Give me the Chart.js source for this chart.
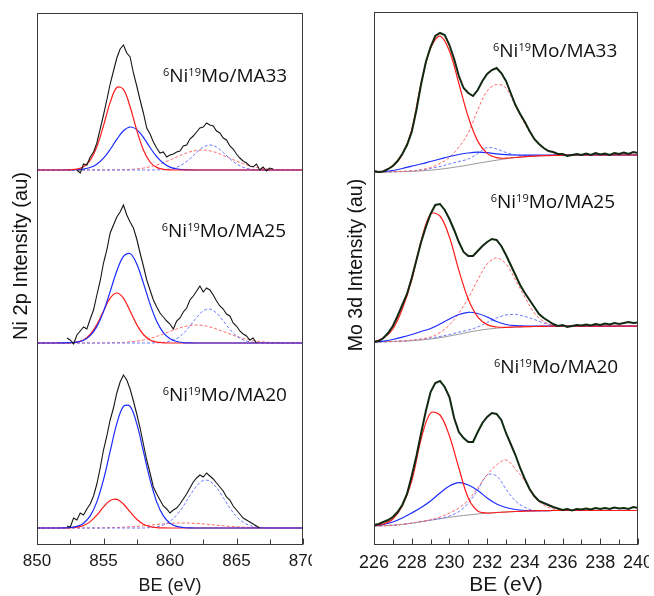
<!DOCTYPE html>
<html>
<head>
<meta charset="utf-8">
<script src="https://cdn.jsdelivr.net/npm/chart.js@4.4.1/dist/chart.umd.min.js"></script>
<style>
  body { margin: 0; background: #fff; }
  #wrap { position: relative; width: 654px; height: 596px; overflow: hidden; background: #fff; }
  canvas { position: absolute; top: 0; }
  #niChart { left: 0; }
  #moChart { left: 330px; }
  .cut { position: absolute; background: #fff; }
</style>
</head>
<body>
<div id="wrap">
  <canvas id="niChart" width="320" height="596"></canvas>
  <canvas id="moChart" width="324" height="596"></canvas>
  <div class="cut" style="left:312px;top:548px;width:18px;height:24px"></div>
  <div class="cut" style="left:649px;top:548px;width:5px;height:24px"></div>
</div>
<script>
// samples, top to bottom
const samples = ['MA33', 'MA25', 'MA20'];

// ---- Ni 2p ----
// fitted components, 0.5 eV grid from 850 to 870 eV (41 points)
const niFitStart = 850, niFitStep = 0.5;
const niRed33 = [0,0,0,0,0, 0.2,0.9,3.3,9.8,23.3, 44.3,67.6,82.5,80.7,63.2, 39.7,20,8,2.6,0.7, 0.1,0,0,0,0, 0,0,0,0,0, 0,0,0,0,0, 0,0,0,0,0, 0];
const niBlue33 = [0,0,0,0,0, 0.1,0.3,0.9,2.5,5.8, 11.8,20.5,30.6,39.2,43, 40.4,32.6,22.5,13.3,6.8, 2.9,1.1,0.35,0.1,0, 0,0,0,0,0, 0,0,0,0,0, 0,0,0,0,0, 0];
const niRedSat33 = [0,0,0,0,0, 0,0,0,0,0, 0,0.1,0.14,0.3,0.6, 1.1,1.9,3.2,5,7.3, 10,13,15.8,18.1,19.6, 20,19.2,17.3,14.7,11.8, 8.9,6.3,4.2,2.6,1.6, 0.9,0.5,0.3,0.1,0, 0];
const niBlueSat33 = [0,0,0,0,0, 0,0,0,0,0, 0,0,0,0,0, 0,0,0,0.1,0.3, 1,2.7,6.1,11.3,17.5, 22.9,25,22.9,17.5,11.3, 6.1,2.7,1,0.3,0.1, 0,0,0,0,0, 0];

const niRed25 = [0,0,0,0,0, 0.2,0.9,3.1,8.5,18.4, 32.1,44.8,50,44.8,32.1, 18.4,8.5,3.1,0.9,0.2, 0,0,0,0,0, 0,0,0,0,0, 0,0,0,0,0, 0,0,0,0,0, 0];
const niBlue25 = [0,0,0,0,0.1, 0.3,0.9,2.8,7.4,16.4, 31.4,51.4,72,86.7,89.4, 79,59.9,38.9,21.7,10.3, 4.2,1.5,0.45,0.1,0, 0,0,0,0,0, 0,0,0,0,0, 0,0,0,0,0, 0];
const niRedSat25 = [0,0,0,0,0, 0,0,0,0,0, 0,0.17,0.3,0.6,1.1, 1.9,3,4.6,6.6,9, 11.5,14,16.1,17.5,18, 17.5,16.1,14,11.5,9, 6.6,4.6,3,1.9,1.1, 0.6,0.3,0.15,0.1,0, 0];
const niBlueSat25 = [0,0,0,0,0, 0,0,0,0,0, 0,0,0,0,0, 0,0,0,0.16,0.6, 1.7,4.4,9.5,17,25.5, 32.1,33.9,29.9,22.2,13.7, 7.1,3.1,1.1,0.35,0.1, 0,0,0,0,0, 0];

const niRed20 = [0,0,0,0,0.04, 0.2,0.8,2.5,6.4,12.9, 21.1,27.5,28.7,24,16.1, 8.7,3.7,1.3,0.4,0.1, 0,0,0,0,0, 0,0,0,0,0, 0,0,0,0,0, 0,0,0,0,0, 0];
const niBlue20 = [0,0,0,0,0.1, 0.5,1.6,4.8,12.1,26.1, 48.3,76.6,104.3,121.6,121.6, 104.3,76.6,48.3,26.1,12.1, 4.8,1.6,0.5,0.1,0, 0,0,0,0,0, 0,0,0,0,0, 0,0,0,0,0, 0];
const niRedSat20 = [0,0,0,0,0, 0,0,0,0,0, 0.2,0.3,0.5,0.8,1.2, 1.6,2.2,2.8,3.5,4.1, 4.6,4.9,5,4.9,4.6, 4.1,3.5,2.8,2.2,1.6, 1.2,0.8,0.5,0.3,0.2, 0.1,0,0,0,0, 0];
const niBlueSat20 = [0,0,0,0,0, 0,0,0,0,0, 0,0,0,0,0, 0,0,0.4,1.2,3, 6.7,13,21.9,32.5,42, 47.5,46.8,40.4,30.4,20, 11.5,5.8,2.5,1,0.3, 0.1,0,0,0,0, 0];

// measured spectra, 0.25 eV steps
const niRawStep = 0.25;
const niRawStarts = [853.0, 852.25, 852.25];
const niRaw33 = [0,-3,6,5,13, 18,27,41,55,70, 86,99,112,121,125, 117,113,97,84,70, 57,42,36,28,22, 17,18,13,15,16, 18,19,24,25,31, 34,38,42,43,47, 45,44,39,37,32, 30,24,21,16,12, 9,7,4,3,6, 0,3,-1,2,1];
const niRaw25 = [5,3,-1,8,12, 16,14,24,33,48, 62,80,93,110,118, 126,131,138,128,121, 115,104,90,77,63, 53,43,36,30,26, 22,19,14,22,25, 31,35,43,47,52, 57,51,55,53,48, 42,37,34,29,27, 20,17,12,9,7, 3,5,0];
const niRaw20 = [2,1,10,8,15, 13,19,24,32,44, 60,78,92,108,120, 135,146,153,148,139, 127,114,100,84,68, 55,41,34,28,22, 19,15,18,20,24, 29,34,40,46,50, 53,51,55,52,49, 45,41,37,31,28, 22,18,14,10,8, 6,4,2,0];

// ---- Mo 3d ----
// fitted components (drawn on their background), 0.5 eV grid from 226 to 240 eV (29 points)
const moFitStart = 226, moFitStep = 0.5;
const moBg33 = [0,0,0.2,0.4,0.7, 1.2,1.8,2.8,4,5.5, 7,8.7,10.3,11.8,13.2, 14.4,15.3,15.9,16.3,16.6, 16.8,17,17,17,17, 17,17,17,17];
const moRed33 = [0,1,6.2,17.4,42, 89.2,123.8,135.8,121,88.5, 55,30.9,18.6,14.3,13.8, 14.5,15.3,15.9,16.3,16.6, 16.8,17,17,17,17, 17,17,17,17];
const moRedB33 = [0,0,0.3,0.6,1.2, 2.3,4.5,8.5,14.5,25, 39,62,81,87.5,84, 66,48,33,23.5,19.5, 17.8,17.2,17,17,17, 17,17,17,17];
const moBlue33 = [0,0.5,1.5,3.5,5.8, 8,10.5,13,15.5,17.5, 19,19.8,19.3,18.2,17.4, 17,16.8,16.8,16.9,17, 17,17,17,17,17, 17,17,17,17];
const moBlueB33 = [0,0,0.2,0.5,1, 2,3.5,5.5,8,10.5, 13,18.5,24.5,23,19.5, 17,16.5,16.5,16.5,16.8, 17,17,17,17,17, 17,17,17,17];

const moBg25 = [0,0.2,0.5,0.8,1.3, 2,3,4.3,6,7.8, 9.8,11.5,12.8,13.8,14.5, 15,15.3,15.5,15.7,15.8, 15.8,15.8,15.8,15.8,15.8, 15.8,15.8,15.8,15.8];
const moRed25 = [0.5,4,13,33,62, 101,128,126,105,71.7, 42.8,25.2,17.4,15,14.6, 15,15.3,15.5,15.7,15.8, 15.8,15.8,15.8,15.8,15.8, 15.8,15.8,15.8,15.8];
const moRedB25 = [0,0.2,0.5,1,1.8, 3,5,9.5,17,29, 44,62,78,84,78, 62,45,29,20.5,16.5, 15.8,15.8,15.8,15.8,15.8, 15.8,15.8,15.8,15.8];
const moBlue25 = [0,0.8,2.5,4.8,7.5, 10.5,13.5,18,23,27.5, 29.7,28.5,25,20.5,17.5, 16.3,16,15.8,15.8,15.8, 15.8,15.8,15.8,15.8,15.8, 15.8,15.8,15.8,15.8];
const moBlueB25 = [0,0.2,0.5,1,1.7, 2.8,4,5.5,7.5,9.8, 12,15,19.5,24,27, 27.5,25.5,22.5,19,16.8, 15.8,15.8,15.8,15.8,15.8, 15.8,15.8,15.8,15.8];

const moBg20 = [0,0.3,0.8,1.6,2.8, 4.3,5.8,7.3,8.7,10, 11,12,12.8,13.5,14, 14.5,14.9,15.2,15.4,15.5, 15.5,15.5,15.5,15.5,15.5, 15.5,15.5,15.5,15.5];
const moRed20 = [0.5,2,7,20,45, 87,113,111,90,58, 28,15,13,13.5,14, 14.5,14.9,15.2,15.4,15.5, 15.5,15.5,15.5,15.5,15.5, 15.5,15.5,15.5,15.5];
const moRedB20 = [0,0.3,0.8,1.6,2.9, 4.5,6.3,9,13,18, 26,38,51,61,66, 57,45,29,21,17, 15.7,15.5,15.5,15.5,15.5, 15.5,15.5,15.5,15.5];
const moBlue20 = [0,1.5,4,8,13, 18.5,25,33,40,43.3, 41,35.5,28,22,18.5, 16.5,15.5,15.3,15.4,15.5, 15.5,15.5,15.5,15.5,15.5, 15.5,15.5,15.5,15.5];
const moBlueB20 = [0,0.3,0.8,1.6,2.8, 4.3,5.8,7.5,10,14.5, 23,36,51,50,37, 25,18.7,15.5,15.4,15.5, 15.5,15.5,15.5,15.5,15.5, 15.5,15.5,15.5,15.5];

// measured spectra, 0.25 eV steps from 226 eV
const moRawStart = 226, moRawStep = 0.25;
const moRaw33 = [1,0,0.5,3,6, 11,18,27,40,62, 88,110,125,136,139, 137,127,113,96,84, 79,76,82,91,98, 102,104,99,91,79, 67,58,50,41,33, 28,24,21,20,18, 18,16,17,18,17, 18.5,17,19,17.5,18.5, 17,19,18,19.5,18, 20,19];
const moRaw25 = [0,1,4,9,16, 26,37,48,64,82, 100,115,128,137,138, 132,123,112,100,90, 86,86,91,96,100, 103,102,96,87,77, 67,57,49,42,35, 28,24,21,18,16, 17,15,16,17,16.5, 17.5,16.5,18,17,18.5, 17.5,19,18,19,20, 19,19.5];
const moRaw20 = [1,2,4,6,9, 14,21,32,50,70, 93,115,134,143,145, 139,129,108,94,88, 84,84,94,103,109, 113,112,106,93,82, 71,58,47,37,30, 25,23,21,19,17.5, 16,17,15.5,17,16.5, 17.5,16.5,18,17,18, 17,18.5,17.5,18,17, 19,18];

// vertical offsets of the stacked spectra (au)
const niOffsets = [375, 202, 17];
const moOffsets = [373, 203, 19];

// sample label anchors (BE, au)
const niLabelX = [859.47, 859.38, 859.45];
const niLabelY = [463, 308, 144];
const moLabelX = [232.31, 232.19, 232.36];
const moLabelY = [488, 337, 172];

const RED = '#ff1a1a', BLUE = '#1a2cff', RED_D = '#ff6a6a', BLUE_D = '#6a78ff';

function pts(start, step, vals, off) {
  return vals.map((v, i) => ({ x: start + i * step, y: v + off }));
}

function line(data, color, width, order, opts) {
  return Object.assign({
    data, borderColor: color, borderWidth: width, pointRadius: 0, fill: false,
    order, tension: 0.35
  }, opts || {});
}

const niDatasets = [];
const niRaws = [niRaw33, niRaw25, niRaw20];
const niReds = [niRed33, niRed25, niRed20];
const niBlues = [niBlue33, niBlue25, niBlue20];
const niRedSats = [niRedSat33, niRedSat25, niRedSat20];
const niBlueSats = [niBlueSat33, niBlueSat25, niBlueSat20];
for (let i = 0; i < 3; i++) {
  const off = niOffsets[i];
  niDatasets.push(line(pts(niRawStarts[i], niRawStep, niRaws[i], off), '#151515', 1.1, 0, { tension: 0 }));
  // top sample: red solid sits on top of blue; others: blue on top
  niDatasets.push(line(pts(niFitStart, niFitStep, niReds[i], off), RED, 1.2, i === 0 ? 1 : 2));
  niDatasets.push(line(pts(niFitStart, niFitStep, niBlues[i], off), BLUE, 1.2, i === 0 ? 2 : 1));
  niDatasets.push(line(pts(niFitStart, niFitStep, niRedSats[i], off), RED_D, 1, 4, { borderDash: [3, 2] }));
  niDatasets.push(line(pts(niFitStart, niFitStep, niBlueSats[i], off), BLUE_D, 1, 3, { borderDash: [3, 2] }));
}

const moDatasets = [];
const moRaws = [moRaw33, moRaw25, moRaw20];
const moBgs = [moBg33, moBg25, moBg20];
const moReds = [moRed33, moRed25, moRed20];
const moRedBs = [moRedB33, moRedB25, moRedB20];
const moBlues = [moBlue33, moBlue25, moBlue20];
const moBlueBs = [moBlueB33, moBlueB25, moBlueB20];
for (let i = 0; i < 3; i++) {
  const off = moOffsets[i];
  moDatasets.push(line(pts(moRawStart, moRawStep, moRaws[i], off), '#112811', 2, 0, { tension: 0 }));
  moDatasets.push(line(pts(moFitStart, moFitStep, moReds[i], off), RED, 1.2, 1));
  moDatasets.push(line(pts(moFitStart, moFitStep, moBlues[i], off), BLUE, 1.2, 2));
  moDatasets.push(line(pts(moFitStart, moFitStep, moRedBs[i], off), RED_D, 1, 3, { borderDash: [3, 2] }));
  moDatasets.push(line(pts(moFitStart, moFitStep, moBlueBs[i], off), BLUE_D, 1, 4, { borderDash: [3, 2] }));
  moDatasets.push(line(pts(moFitStart, moFitStep, moBgs[i], off), '#9a9a9a', 1, 5));
}

// label pieces: [text, superscript]
const labelParts = [['6', true], ['Ni', false], ['19', true], ['Mo/', false]];

function drawSampleLabel(ctx, px, py, name) {
  let cx = px;
  for (const [t, sup] of labelParts.concat([[name, false]])) {
    ctx.font = sup ? '11px "Open Sans"' : '19px "Open Sans"';
    ctx.fillText(t, cx, sup ? py - 6 : py);
    cx += ctx.measureText(t).width;
  }
}

function decor(cfg) {
  return {
    id: 'xpsDecor',
    beforeDraw(chart) {
      const ctx = chart.ctx;
      ctx.save();
      ctx.fillStyle = '#fff';
      ctx.fillRect(0, 0, chart.width, chart.height);
      ctx.restore();
    },
    afterDraw(chart) {
      const { ctx, chartArea: a, scales: { x, y } } = chart;
      ctx.save();
      ctx.strokeStyle = '#3a3a3a';
      ctx.lineWidth = 1;
      const l = Math.round(a.left) + 0.5, t = Math.round(a.top) + 0.5;
      const r = Math.round(a.right) - 0.5, b = Math.round(a.bottom) - 0.5;
      ctx.strokeRect(l, t, r - l, b - t);
      // inward ticks on the BE axis
      ctx.beginPath();
      const n = Math.round((x.max - x.min) / cfg.minor);
      for (let k = 0; k <= n; k++) {
        const v = x.min + k * cfg.minor;
        const px = Math.round(x.getPixelForValue(v)) + 0.5;
        const major = Math.abs(v / cfg.major - Math.round(v / cfg.major)) < 1e-6;
        ctx.moveTo(px, b);
        ctx.lineTo(px, b - (major ? 6 : 5));
      }
      ctx.stroke();
      // sample labels
      ctx.fillStyle = '#111';
      ctx.textAlign = 'left';
      ctx.textBaseline = 'alphabetic';
      for (let i = 0; i < samples.length; i++) {
        drawSampleLabel(ctx, x.getPixelForValue(cfg.labelX[i]), y.getPixelForValue(cfg.labelY[i]), samples[i]);
      }
      // y axis title
      ctx.translate(cfg.yTitleX, cfg.yTitleY);
      ctx.rotate(-Math.PI / 2);
      ctx.textAlign = 'center';
      ctx.textBaseline = 'middle';
      ctx.font = cfg.yTitleFont;
      ctx.fillText(cfg.yTitle, 0, 0);
      ctx.restore();
    }
  };
}

function panel(id, o) {
  return new Chart(document.getElementById(id), {
    type: 'line',
    data: { datasets: o.datasets },
    options: {
      responsive: false,
      animation: false,
      devicePixelRatio: 1,
      layout: { padding: { top: o.top, right: o.right, left: 0, bottom: 0 } },
      plugins: { legend: { display: false }, tooltip: { enabled: false } },
      scales: {
        x: {
          type: 'linear', min: o.xMin, max: o.xMax,
          ticks: { stepSize: o.major, padding: o.tickPad, color: '#1a1a1a', maxRotation: 0, autoSkip: false,
                   font: { family: 'Liberation Sans', size: o.tickSize } },
          grid: { display: false, drawTicks: false },
          border: { display: false },
          title: { display: true, text: 'BE (eV)', color: '#1a1a1a',
                   font: { family: 'Liberation Sans', size: o.titleSize }, padding: { top: 0, bottom: o.titlePad } },
          afterFit: s => { s.height = o.xHeight; s.paddingLeft = 0; s.paddingRight = 0; }
        },
        y: {
          type: 'linear', min: 0, max: o.yMax,
          ticks: { display: false },
          grid: { display: false, drawTicks: false },
          border: { display: false },
          afterFit: s => { s.width = o.yWidth; }
        }
      }
    },
    plugins: [decor(o.decor)]
  });
}

panel('niChart', {
  datasets: niDatasets, xMin: 850, xMax: 870, major: 5, yMax: 532,
  top: 13, right: 17, yWidth: 37, xHeight: 51,
  tickPad: 6, tickSize: 17, titleSize: 18, titlePad: -1,
  decor: { minor: 2.5, major: 5, labelX: niLabelX, labelY: niLabelY,
           yTitle: 'Ni 2p Intensity (au)', yTitleX: 21, yTitleY: 256, yTitleFont: '20px "Liberation Sans"' }
});

panel('moChart', {
  datasets: moDatasets, xMin: 226, xMax: 240, major: 2, yMax: 533,
  top: 12, right: 16, yWidth: 44, xHeight: 51,
  tickPad: 7, tickSize: 18, titleSize: 21, titlePad: -2,
  decor: { minor: 1, major: 2, labelX: moLabelX, labelY: moLabelY,
           yTitle: 'Mo 3d Intensity (au)', yTitleX: 27, yTitleY: 265, yTitleFont: '19.5px "Liberation Sans"' }
});
</script>
</body>
</html>
